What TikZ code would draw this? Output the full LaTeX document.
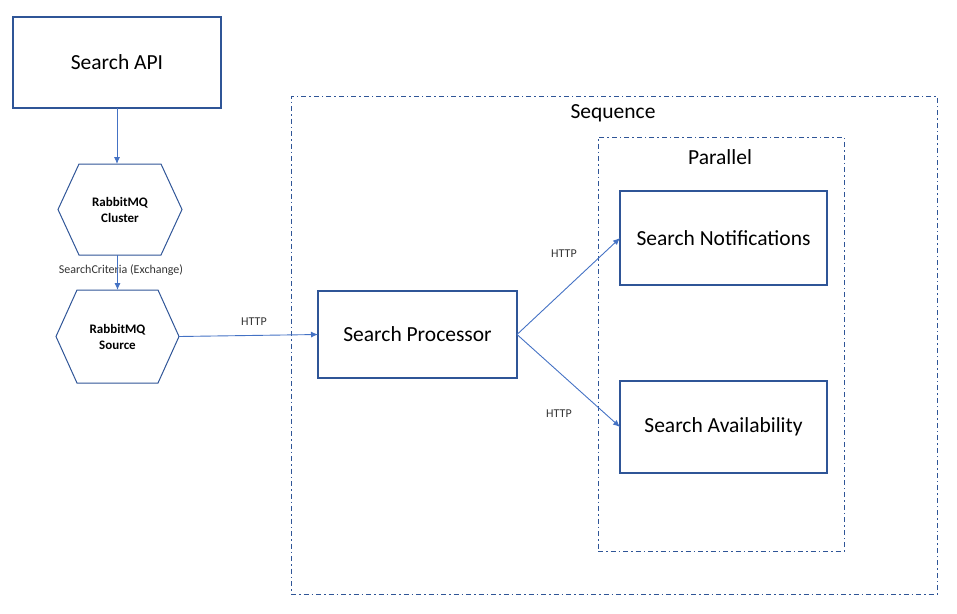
\documentclass[tikz,border=0pt]{standalone}
\usepackage{fontspec}
\setmainfont{Carlito}
\usetikzlibrary{arrows.meta}
\definecolor{boxblue}{HTML}{2F5597}
\definecolor{linkblue}{HTML}{4472C4}

% hexagon outline round a named node
\newcommand{\hexframe}[1]{%
  \draw[hex line] (#1.west) -- ([xshift=21pt]#1.north west) -- ([xshift=-21pt]#1.north east)
     -- (#1.east) -- ([xshift=-21pt]#1.south east) -- ([xshift=21pt]#1.south west) -- cycle;}

\begin{document}
\begin{tikzpicture}[
                    x = 1pt, y = -1pt,
    every node/.style = {inner sep=0pt, outer sep=0pt},
        service/.style = {draw=boxblue, line width=1.2pt, minimum width=207pt,
                          minimum height=92pt, font=\fontsize{21.5}{26}\selectfont},
        hexnode/.style = {minimum width=124pt, minimum height=92pt, align=center,
                          font=\bfseries\fontsize{13}{16}\selectfont},
       hex line/.style = {draw=boxblue, line width=1pt},
          group/.style = {draw=boxblue, line width=1pt,
                          dash pattern=on 5pt off 3pt on 1.5pt off 3pt},
    group label/.style = {font=\fontsize{21.5}{26}\selectfont},
           link/.style = {draw=linkblue, line width=0.9pt, -{Latex[length=7pt,width=6pt]}},
     link label/.style = {font=\fontsize{12}{14}\selectfont, text=black!80},
                     ]
\useasboundingbox (0,0) rectangle (957,613);

\node[group, minimum width=646pt, minimum height=498pt] (seq) at (614,345) {};
\node[group label] (seqlabel) at (613,113) {Sequence};
\node[group, minimum width=246pt, minimum height=414pt] (par) at (721,344) {};
\node[group label] (parlabel) at (720,157) {Parallel};

\node[service, minimum width=208pt, minimum height=91pt] (api) at (117,62.5) {Search API};
\node[hexnode, minimum height=91pt] (cluster) at (120,209.5) {RabbitMQ\\Cluster};
\node[hexnode, minimum width=123pt, minimum height=93pt] (source) at (117.5,336.5) {RabbitMQ\\Source};
\node[service, minimum width=199pt, minimum height=87pt] (proc) at (417.5,334.5) {Search Processor};
\node[service, minimum height=94pt] (notif) at (723.5,238) {Search Notifications};
\node[service] (avail) at (723.5,427) {Search Availability};

\hexframe{cluster}
\hexframe{source}

\node[link label] (exlabel) at (121,270) {SearchCriteria (Exchange)};
\node[link label] (http1) at (254,322) {HTTP};
\node[link label] (http2) at (564,254) {HTTP};
\node[link label] (http3) at (559,414) {HTTP};

\draw[link] (api.south) -- (api.south |- cluster.north);
\draw[link] (source.north |- cluster.south) -- (source.north);
\draw[link] (source.east) -- (proc.west);
\draw[link] (proc.east) -- (notif.west);
\draw[link] (proc.east) -- (avail.west);
\end{tikzpicture}
\end{document}
